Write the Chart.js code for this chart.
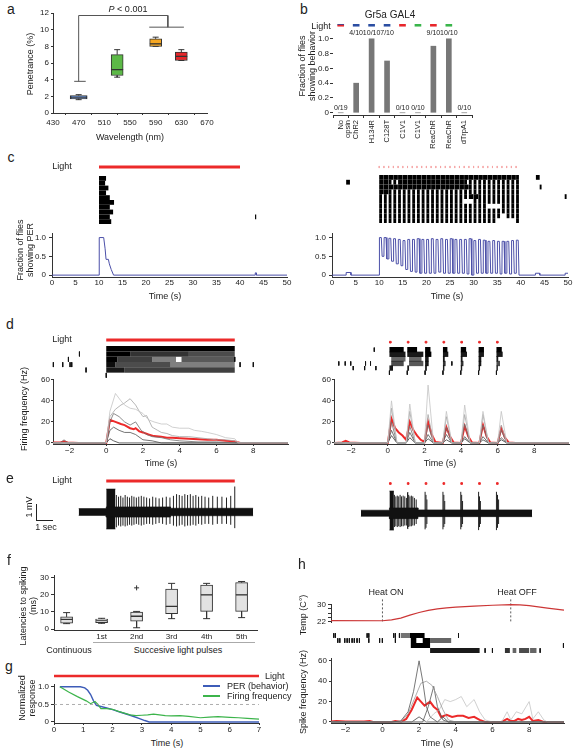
<!DOCTYPE html>
<html>
<head>
<meta charset="utf-8">
<script src="https://cdn.jsdelivr.net/npm/chart.js@4.4.1/dist/chart.umd.min.js"></script>
<style>
  body { margin: 0; width: 574px; height: 750px; background: #fff; position: relative; overflow: hidden;
         font-family: 'Liberation Sans', Arial, sans-serif; color: #222; }
  .ch { position: absolute; }
  .t { position: absolute; white-space: nowrap; transform: translate(-50%, -50%); font-size: 9px; line-height: 1.15; z-index: 2; }
  .t.l { transform: translate(0, -50%); }
  .t.v { transform: translate(-50%, -50%) rotate(-90deg); text-align: center; }
  .t.p { font-size: 14px; }
  .ln { position: absolute; z-index: 2; }
</style>
</head>
<body>
<!-- panel letters -->
<div class="t p" style="left:11px;top:9px">a</div>
<div class="t p" style="left:304px;top:9px">b</div>
<div class="t p" style="left:11px;top:157px">c</div>
<div class="t p" style="left:10px;top:324px">d</div>
<div class="t p" style="left:10px;top:478px">e</div>
<div class="t p" style="left:9px;top:560px">f</div>
<div class="t p" style="left:9px;top:666px">g</div>
<div class="t p" style="left:302px;top:564px">h</div>

<!-- a -->
<div class="t" style="left:128px;top:9px"><i>P</i> &lt; 0.001</div>
<div class="t" style="left:130px;top:137px">Wavelength (nm)</div>
<div class="t v" style="left:30px;top:64px">Penetrance (%)</div>

<!-- b -->
<div class="t" style="left:390px;top:15px;font-size:10px">Gr5a GAL4</div>
<div class="t" style="left:321px;top:26px">Light</div>
<div class="t v" style="left:307px;top:66px">Fraction of flies<br>showing behavior</div>

<!-- c -->
<div class="t" style="left:62px;top:166px">Light</div>
<div class="t v" style="left:25px;top:250px">Fraction of flies<br>showing PER</div>
<div class="t" style="left:165px;top:296px">Time (s)</div>
<div class="t" style="left:447px;top:296px">Time (s)</div>

<!-- d -->
<div class="t" style="left:62px;top:339px">Light</div>
<div class="t v" style="left:24px;top:409px">Firing frequency (Hz)</div>
<div class="t" style="left:161px;top:463px">Time (s)</div>
<div class="t" style="left:440px;top:463px">Time (s)</div>

<!-- e -->
<div class="t" style="left:62px;top:480px">Light</div>
<div class="t v" style="left:29px;top:507px">1 mV</div>
<div class="t" style="left:46px;top:527px">1 sec</div>
<div class="ln" style="left:36px;top:504px;width:1px;height:17px;background:#222"></div>
<div class="ln" style="left:36px;top:520px;width:17px;height:1px;background:#222"></div>

<!-- f -->
<div class="t v" style="left:28px;top:606px">Latencies to spiking<br>(ms)</div>
<div class="t" style="left:69px;top:650px">Continuous</div>
<div class="t" style="left:178px;top:650px">Succesive light pulses</div>
<div class="ln" style="left:93px;top:642px;width:162px;height:1px;background:#aaa"></div>

<!-- g -->
<div class="t v" style="left:27px;top:698px">Normalized<br>response</div>
<div class="t" style="left:167px;top:743px">Time (s)</div>
<div class="t l" style="left:265px;top:676px">Light</div>
<div class="ln" style="left:203px;top:685px;width:17px;height:1.5px;background:#3d5cb8"></div>
<div class="t l" style="left:227px;top:686px">PER (behavior)</div>
<div class="ln" style="left:203px;top:695px;width:17px;height:1.5px;background:#3cb44b"></div>
<div class="t l" style="left:227px;top:696px">Firing frequency</div>

<!-- h -->
<div class="t" style="left:386px;top:592px">Heat ON</div>
<div class="t" style="left:517px;top:592px">Heat OFF</div>
<div class="t v" style="left:303px;top:615px">Temp (C°)</div>
<div class="t v" style="left:303px;top:692px">Spike frequency (Hz)</div>
<div class="t" style="left:437px;top:743px">Time (s)</div>

<script>
// ── DATA ────────────────────────────────────────
// a · penetrance by wavelength (box stats)
const aWave   = [470, 530, 590, 630];
const aMin    = [1.6, 4.3, 8.0, 6.3];
const aQ1     = [1.7, 4.5, 8.0, 6.3];
const aMed    = [1.9, 5.2, 8.3, 6.8];
const aQ3     = [2.1, 7.0, 8.9, 7.3];
const aMax    = [2.2, 7.6, 9.1, 7.6];
const aXTicks = [430, 470, 510, 550, 590, 630, 670];
const aYTicks = [0, 2, 4, 6, 8, 10, 12];
const aBracketX = [463, 481, null, 470, 470, 609, 609, null, 580, 634];
const aBracketY = [3.8, 3.8, null, 3.8, 11.7, 11.7, 10.3, null, 10.3, 10.3];

// b · fraction of flies per opsin
const bCats   = [['No', 'opsin'], 'ChR2', 'H134R', 'C128T', 'C1V1', 'C1V1', 'ReaChR', 'ReaChR', 'dTrpA1'];
const bFrac   = [0, 0.4, 1.0, 0.7, 0, 0, 0.9, 1.0, 0];
const bCounts = ['0/19', '4/10', '10/10', '7/10', '0/10', '0/10', '9/10', '10/10', '0/10'];
const bLight  = ['mix', 'blue', 'blue', 'blue', 'red', 'green', 'red', 'green', ''];
const bYTicks = [0, 0.2, 0.4, 0.6, 0.8, 1.0];

// c · PER raster + fraction
const cXTicks   = [0, 5, 10, 15, 20, 25, 30, 35, 40, 45, 50];
const cYTicks   = [0, 0.5, 1];
const cLight    = [10, 40];
const cLeftEnds = [11.5, 11.3, 12.0, 11.5, 12.3, 13.2, 12.3, 13.0, 12.3, 12.6];
const cLeftDots = [[9, 43.2, 43.45]];
const cLeftPerT = [0, 10, 10.05, 11.0, 11.3, 11.5, 12.0, 12.2, 12.6, 13.1, 43.2, 43.25, 43.45, 43.5, 50];
const cLeftPerV = [0, 0, 1, 1, 0.7, 0.42, 0.42, 0.3, 0.15, 0, 0, 0.06, 0.06, 0, 0];
const cRightPulses = [10, 11, 12, 13, 14, 15, 16, 17, 18, 19, 20, 21, 22, 23, 24,
                      25, 26, 27, 28, 29, 30, 31, 32, 33, 34, 35, 36, 37, 38, 39];
const cRightRows = [
  'WWWWWWWWWWWWWWWWWWWWWWWWWWWWW1',
  'WW11WWWWWWWWWWWWWW111111111111',
  'WWWWWWWWWWWWWWWWWWW11111111111',
  'WW1111111111111111111111111111',
  '1111111111111111111WW111111111',
  '111111111111111111001111111111',
  '111111111111111111111110001111',
  '111111111111111111111111111111',
  '111111111111111111111111110111',
  '111111111111111111111111100001'
];
const cRightExtra  = [[2, 3.0, 3.8], [1, 43.2, 44.0], [3, 44.0, 44.4], [5, 49.3, 49.7]];
const cRightPeak   = [1.0, 1.0, 0.98, 0.97, 0.95, 0.92, 0.95, 0.95, 0.97, 0.95, 0.95, 0.97, 0.95, 0.97, 0.95,
                      0.97, 0.95, 0.95, 0.95, 0.97, 0.92, 0.95, 0.93, 0.9, 0.92, 0.9, 0.9, 0.9, 0.92, 0.93];
const cRightTrough = [0.5, 0.43, 0.37, 0.3, 0.25, 0.15, 0.1, 0.08, 0.05, 0.05, 0.05, 0.05, 0.08, 0.05, 0.05,
                      0.05, 0.05, 0.05, 0.03, 0.0, 0.05, 0.05, 0.05, 0.05, 0.05, 0.03, 0.05, 0.03, 0.05, 0];
const cRightBlips  = [[3.0, 4.0, 0.07], [43.1, 44.0, 0.05], [49.4, 50, 0.05]];

// d · firing (continuous vs pulsed)
const dXTicks = [-2, 0, 2, 4, 6, 8];
const dYTicks = [0, 20, 40, 60];
const dLight  = [0, 7];
const dPulses = [0, 1, 2, 3, 4, 5, 6];
const dLeftDense = [
  [1, 0, 7.0, 1.0],
  [2, 0, 1.3, 1.0], [2, 1.3, 4.5, 0.8], [2, 4.5, 7.0, 0.7],
  [3, 0, 0.6, 1.0], [3, 0.6, 2.5, 0.75], [3, 2.5, 3.8, 0.5], [3, 4.1, 7.0, 0.65],
  [4, 0, 0.5, 0.95], [4, 0.5, 3.5, 0.7], [4, 3.5, 7.0, 0.5],
  [5, 0, 1.0, 0.9], [5, 1.0, 7.0, 0.75]
];
const dLeftTicks = [[2, -1.46], [3, -2.06], [4, -2.88], [4, -2.37], [4, -1.97], [4, -1.88], [5, -1.1],
                    [3, 7.0], [4, 7.29], [4, 8.01], [6, 0]];
const dLeftMean = [[-2.9, 0.5], [-2.5, 0.5], [-2.3, 1.5], [-2.1, 0.5], [-1.5, 0], [0, 0], [0.2, 22], [0.5, 20],
                   [0.8, 18], [1.0, 17], [1.3, 14], [1.5, 13], [1.6, 14], [1.8, 11], [2.0, 10], [2.3, 8],
                   [2.6, 6.5], [3.0, 6], [3.3, 5], [3.6, 5], [4.0, 4.5], [4.5, 4], [5.0, 3.5], [5.5, 3],
                   [6.0, 3], [6.5, 2], [7.0, 1.5], [7.3, 0], [9.9, 0]];
const dLeftGray = [
  [[-2.9, 0], [0, 0], [0.2, 30], [0.5, 47], [0.8, 40], [1.0, 36], [1.3, 33], [1.6, 32], [2.0, 28], [2.3, 22],
   [2.6, 20], [3.0, 18], [3.3, 18], [3.6, 15], [4.0, 14], [4.5, 14], [4.8, 12], [5.2, 11], [5.5, 10],
   [6.0, 8], [6.5, 5], [7.0, 4], [7.2, 0], [9.9, 0]],
  [[-2.9, 0], [0, 0], [0.2, 25], [0.5, 32], [0.8, 36], [1.0, 38], [1.3, 42], [1.6, 36], [1.8, 30], [2.0, 25],
   [2.2, 26], [2.5, 15], [2.8, 12], [3.0, 10], [3.3, 9], [3.6, 7], [4.0, 6], [4.5, 6], [5.0, 5], [5.5, 4],
   [6.0, 3], [6.5, 3], [7.0, 2], [7.2, 0], [9.9, 0]],
  [[-2.9, 0], [-2.5, 0], [-2.3, 3], [-2.1, 0], [0, 0], [0.2, 20], [0.4, 28], [0.7, 25], [1.0, 20], [1.3, 17],
   [1.6, 20], [1.9, 12], [2.2, 8], [2.5, 6], [3.0, 5], [3.5, 3], [4.0, 2], [5.0, 1], [6.0, 1], [7.0, 0], [9.9, 0]],
  [[-2.9, 0], [0, 0], [0.2, 12], [0.4, 15], [0.7, 12], [1.0, 10], [1.3, 10], [1.6, 8], [2.0, 3], [2.5, 2],
   [3.0, 0], [9.9, 0]],
  [[-2.9, 0], [0, 0], [0.2, 4], [0.4, 2], [0.7, 0], [9.9, 0]]
];
const dRightDense = [
  [1, 0, 0.8, 1], [1, 1.0, 1.55, 1], [1, 2.0, 2.3, 1], [1, 3.0, 3.25, 1], [1, 4.0, 4.3, 1], [1, 5.0, 5.3, 1], [1, 6.0, 6.3, 1],
  [2, 0, 0.9, 0.9], [2, 1.0, 1.9, 0.9], [2, 2.0, 2.35, 1], [2, 3.0, 3.3, 0.9], [2, 4.0, 4.35, 0.9], [2, 5.0, 5.3, 0.9], [2, 6.0, 6.35, 0.9],
  [3, 0.1, 0.9, 0.6], [3, 1.1, 1.8, 0.6], [3, 2.0, 2.2, 0.9], [3, 3.0, 3.1, 0.9], [3, 4.0, 4.1, 0.9], [3, 5.0, 5.15, 0.9], [3, 6.0, 6.1, 0.9],
  [4, 0.1, 0.8, 0.7], [4, 1.1, 1.9, 0.65], [4, 2.0, 2.2, 0.9], [4, 3.0, 3.15, 0.8], [4, 4.0, 4.15, 0.8], [4, 5.0, 5.15, 0.9], [4, 6.0, 6.2, 0.7],
  [5, 0, 0.2, 0.9], [5, 1.0, 1.1, 0.9], [5, 2.0, 2.1, 0.9], [5, 3.0, 3.08, 0.9], [5, 4.0, 4.08, 0.9], [5, 5.0, 5.08, 0.9], [5, 6.0, 6.08, 0.9]
];
const dRightTicks = [[1, -0.85], [4, -2.84], [4, -2.48], [4, -2.17], [4, -1.34], [4, -1.06], [5, -2.03], [5, -1.39],
                     [5, -0.76], [4, 3.5], [6, 0], [6, 1], [6, 2], [6, 3], [6, 4], [6, 5], [6, 6]];
const dRightMean = [[-2.9, 0], [-2.5, 0.5], [-2.3, 2], [-2.1, 0.5], [-1.5, 0], [0, 0], [0.2, 23], [0.4, 14], [0.6, 10],
                    [0.8, 7], [1.0, 3], [1.2, 20], [1.4, 12], [1.6, 7], [1.8, 3], [2.0, 1], [2.2, 20], [2.4, 8],
                    [2.6, 1], [3.0, 0], [3.2, 15], [3.4, 6], [3.6, 0.5], [4.0, 0], [4.2, 16], [4.4, 6], [4.6, 0.5],
                    [5.0, 0], [5.2, 17], [5.4, 6], [5.6, 0.5], [6.0, 0], [6.2, 14], [6.4, 5], [6.6, 0.5], [7.0, 0], [9.9, 0]];
const dRightPeaks = [
  [40, 37, 55, 30, 36, 30, 30],
  [33, 30, 27, 25, 27, 27, 17],
  [20, 16, 17, 15, 18, 17, 12],
  [12, 10, 8, 8, 6, 6, 5],
  [7, 5, 4, 3, 4, 3, 3]
];

// e · extracellular recordings (mV vs s)
const eLeftNoise    = [[-1.5, 0, 0.2], [0, 3.5, 0.3], [3.5, 8.0, 0.22]];
const eLeftBurst    = [[0, 0.5, 1.35, -1.0]];
const eLeftSpikeT   = [0.55, 0.67, 0.79, 0.91, 1.03, 1.15, 1.27, 1.39, 1.51, 1.64, 1.77, 1.91, 2.05, 2.2, 2.36, 2.53,
                       2.7, 2.88, 3.07, 3.27, 3.47, 3.66, 3.83, 3.98, 4.13, 4.28, 4.43, 4.58, 4.73, 4.88, 5.03, 5.2,
                       5.38, 5.58, 5.8, 6.05, 6.3, 6.55, 6.78, 7.0];
const eLeftSpikeTop = [1.0, 0.9, 0.95, 0.85, 1.0, 0.9, 0.85, 0.95, 0.9, 0.85, 0.9, 0.95, 0.9, 0.85, 0.8, 0.9,
                       0.85, 0.8, 0.85, 0.9, 0.85, 0.95, 1.05, 1.0, 0.95, 1.05, 1.0, 1.05, 0.95, 1.0, 0.9, 0.95,
                       0.9, 0.85, 0.95, 0.9, 0.9, 0.85, 0.95, 1.5];
const eLeftSpikeBot = [-0.9, -0.8, -0.85, -0.8, -0.85, -0.8, -0.75, -0.8, -0.75, -0.7, -0.75, -0.8, -0.75, -0.7, -0.7, -0.75,
                       -0.7, -0.65, -0.7, -0.75, -0.7, -0.8, -0.85, -0.8, -0.75, -0.85, -0.8, -0.8, -0.75, -0.8, -0.7, -0.75,
                       -0.7, -0.7, -0.75, -0.7, -0.7, -0.7, -0.75, -0.95];
const eRightNoise    = [[-1.6, 0, 0.2], [0, 1.6, 0.35], [1.6, 8.0, 0.22]];
const eRightBurst    = [[0, 0.25, 1.45, -1.1], [1.0, 1.06, 1.35, -1.0]];
const eRightSpikeT   = [0.28, 0.36, 0.44, 0.52, 0.6, 0.68, 0.77, 0.86, 0.95, 1.02, 1.08, 1.15, 1.23, 1.31, 1.4, 1.5,
                        2.0, 2.05, 2.1, 3.0, 3.05, 3.1, 4.0, 4.05, 4.1, 5.0, 5.05, 5.1, 6.0, 6.06, 6.12];
const eRightSpikeTop = [1.2, 1.1, 1.15, 1.1, 1.2, 1.1, 1.15, 1.1, 1.0, 1.35, 1.2, 1.1, 1.15, 1.1, 1.0, 0.9,
                        1.4, 1.2, 0.9, 1.4, 1.2, 0.8, 1.4, 1.2, 0.8, 1.4, 1.1, 0.8, 1.4, 1.2, 0.9];
const eRightSpikeBot = [-0.9, -0.85, -0.9, -0.85, -0.9, -0.85, -0.85, -0.8, -0.8, -1.0, -0.9, -0.85, -0.85, -0.8, -0.8, -0.7,
                        -1.05, -0.95, -0.7, -1.05, -0.9, -0.7, -1.05, -0.9, -0.7, -1.1, -0.9, -0.7, -1.1, -0.95, -0.7];

// f · latencies to spiking (box stats)
const fCats   = ['Continuous', '1st', '2nd', '3rd', '4th', '5th'];
const fMin    = [3.2, 3.4, 0.8, 6.1, 6.1, 6.7];
const fQ1     = [3.4, 3.8, 4.6, 9.0, 10.3, 10.3];
const fMed    = [5.7, 5.0, 7.5, 13.2, 19.9, 19.9];
const fQ3     = [7.1, 5.9, 9.9, 23.3, 25.6, 27.0];
const fMax    = [9.6, 6.3, 10.3, 26.6, 26.6, 27.7];
const fOutX   = [2];
const fOutY   = [24];
const fXTicks = [1, 2, 3, 4, 5];
const fYTicks = [0, 10, 20, 30];

// g · normalized response
const gLight  = [0, 7];
const gHalf   = 0.5;
const gPerT   = [0.2, 0.9, 1.05, 1.15, 1.25, 1.35, 1.45, 1.6, 1.8, 2.0, 2.3, 2.6, 2.9, 3.1, 3.25, 7.0];
const gPerV   = [1.0, 1.0, 0.97, 0.9, 0.78, 0.6, 0.47, 0.44, 0.4, 0.35, 0.27, 0.19, 0.1, 0.04, 0, 0];
const gFirT   = [0.2, 0.5, 0.8, 1.1, 1.25, 1.4, 1.5, 1.6, 1.8, 2.0, 2.2, 2.4, 2.6, 2.8, 3.0, 3.2, 3.4, 3.6, 3.8,
                 4.0, 4.3, 4.6, 5.0, 5.3, 5.6, 6.0, 6.3, 6.6, 7.0];
const gFirV   = [1.0, 0.85, 0.72, 0.6, 0.52, 0.58, 0.5, 0.38, 0.38, 0.36, 0.3, 0.25, 0.2, 0.18, 0.19, 0.2, 0.22,
                 0.2, 0.18, 0.17, 0.18, 0.16, 0.12, 0.14, 0.15, 0.13, 0.12, 0.1, 0.08];
const gXTicks = [0, 1, 2, 3, 4, 5, 6, 7];
const gYTicks = [0, 0.5, 1];

// h · heat stimulation
const hHeat      = [0, 7];
const hTempT     = [-2.8, 0, 0.5, 1, 1.5, 2, 2.5, 3, 3.5, 4, 5, 6, 7, 7.5, 8, 8.5, 9, 9.9];
const hTempV     = [22.4, 22.3, 22.7, 23.6, 25.0, 26.3, 27.3, 28.0, 28.5, 28.9, 29.4, 29.8, 30.1, 30.0, 29.6, 29.0, 28.4, 27.4];
const hTempTicks = [22, 24, 26, 28, 30];
const hDense = [
  [1, 1.0, 1.5, 0.55], [1, 1.5, 2.3, 1],
  [2, 1.55, 1.85, 1], [2, 2.2, 2.6, 1], [2, 2.6, 3.75, 0.6],
  [3, 1.55, 2.6, 1],
  [4, 2.6, 5.3, 0.9], [4, 6.68, 6.95, 0.8], [4, 7.1, 7.3, 0.6], [4, 7.45, 8.0, 0.7], [4, 8.05, 8.4, 0.6]
];
const hTicks = [[1, -2.65], [1, -2.56], [1, -0.83], [1, -0.74], [1, 0.62], [1, 0.71], [1, 0.93], [1, 4.15],
                [2, -2.43], [2, -2.32], [2, -2.05], [2, -1.92], [2, -1.8], [2, -1.65], [2, -1.53], [2, -1.38],
                [2, -1.25], [2, -0.74], [2, -0.15], [2, 0.0], [2, 0.71], [3, 9.87], [4, 5.6], [4, 6.0], [4, 8.6]];
const hMean = [[-2.8, 0.5], [-2.5, 1], [-2, 0.5], [-1.5, 0.5], [-1, 0.5], [-0.7, 1], [-0.5, 0], [0.5, 0], [0.7, 1],
               [1.0, 0], [1.3, 3], [1.6, 12], [1.9, 24], [2.1, 20], [2.3, 16], [2.6, 20], [2.8, 15], [3.0, 12],
               [3.2, 5], [3.5, 7], [3.8, 5], [4.1, 6], [4.4, 6], [4.7, 4], [5.0, 5], [5.3, 2], [5.6, 0], [6.5, 0],
               [6.8, 3], [7.0, 1], [7.2, 1], [7.4, 3], [7.6, 2], [7.8, 3], [8.0, 5], [8.2, 1], [8.5, 2], [8.8, 0], [9.9, 0]];
const hGray = [
  [[-2.8, 0], [0.5, 0], [1.0, 1], [1.4, 10], [1.7, 30], [2.0, 60], [2.2, 40], [2.4, 15], [2.6, 5], [3.0, 0], [9.9, 0]],
  [[-2.8, 0], [1.0, 0], [1.4, 8], [1.8, 25], [2.1, 38], [2.4, 40], [2.7, 36], [3.0, 25], [3.3, 12], [3.6, 2], [4.0, 0], [9.9, 0]],
  [[-2.8, 0], [2.2, 0], [2.5, 15], [2.8, 35], [3.0, 15], [3.3, 2], [3.6, 0], [9.9, 0]],
  [[-2.8, 0], [2.4, 0], [2.8, 8], [3.1, 12], [3.4, 22], [3.7, 20], [4.0, 22], [4.3, 25], [4.6, 15], [5.0, 22],
   [5.3, 10], [5.6, 2], [6.0, 0], [6.5, 0], [6.8, 10], [7.0, 2], [7.3, 10], [7.6, 8], [8.0, 20], [8.2, 3],
   [8.5, 10], [8.8, 2], [9.0, 0], [9.9, 0]],
  [[-2.8, 0], [1.6, 0], [2.0, 5], [2.4, 0], [3.0, 0], [3.3, 5], [3.6, 0], [9.9, 0]]
];
const hXTicks = [-2, 0, 2, 4, 6, 8];
const hYTicks = [0, 20, 40, 60];

// ── STYLE ───────────────────────────────────────
const AX = '#333';
const RED = '#ec2a2a';
const PER_BLUE = '#4b4fa8';
const LIGHT = { blue: '#2b4ea2', red: '#e8262b', green: '#39b54a' };
const A_FILL = ['#2f5a9e', '#5cb947', '#f7a823', '#e6262a'];
const A_W = [17, 12, 12, 12];
const D_GRAY = ['#c4c4c4', '#a4a4a4', '#707070', '#505050', '#3a3a3a'];
const H_GRAY = ['#555', '#9a9a9a', '#555', '#c4c4c4', '#444'];
const RESP = 0.6, RESP_LONG = 0.95;

Chart.defaults.font.family = "'Liberation Sans', Arial, sans-serif";
Chart.defaults.font.size = 8;
Chart.defaults.color = '#222';

// ── HELPERS ─────────────────────────────────────
const num = v => v < 0 ? '\u2212' + Math.abs(v) : String(v);
const dec = v => v === 0 ? '0' : v.toFixed(1);
const xy = (xs, ys) => xs.map((x, i) => ({ x, y: ys[i] }));
const pairs = arr => arr.map(([x, y]) => ({ x, y }));

function axis(min, max, ticks, o = {}) {
  const len = o.len ?? 3;
  return {
    type: 'linear', min, max, offset: false,
    border: { display: o.border !== false, color: AX, width: 1 },
    grid: { drawOnChartArea: false, drawTicks: len > 0, tickLength: len, color: AX },
    ticks: { padding: o.pad ?? 2, color: '#222', autoSkip: false, maxRotation: 0, callback: o.fmt || num },
    afterBuildTicks: s => { s.ticks = ticks.map(v => ({ value: v })); }
  };
}
const hidden = (min, max, rev) => ({ type: 'linear', display: false, min, max, reverse: !!rev, offset: false });
// raster rows: row i centred at rowTop + (i - .5) * rowH px
function rowAxis(area, rowTop, rowH) {
  const v = px => (px - rowTop) / rowH + 0.5;
  return Object.assign(hidden(v(area[1]), v(area[3]), true), { _v: v });
}

function L(data, color, width, more) {
  return Object.assign({ type: 'line', data, borderColor: color, borderWidth: width, pointRadius: 0,
    fill: false, tension: 0, clip: false, spanGaps: false }, more || {});
}

function rasterSets(dense, ticks, rowPx) {
  const sets = dense.map(([r, s, e, k]) =>
    L([{ x: s, y: r }, { x: e, y: r }], `rgba(0,0,0,${k})`, rowPx, { borderCapStyle: 'butt' }));
  const pts = [];
  ticks.forEach(([r, t]) => pts.push({ x: t, y: r - 0.45 }, { x: t, y: r + 0.45 }, { x: t, y: null }));
  sets.push(L(pts, '#111', 1));
  return sets;
}

function band(segs, color) {
  const up = [], lo = [];
  segs.forEach(([s, e, tp, bt]) => { up.push({ x: s, y: tp }, { x: e, y: tp }); lo.push({ x: s, y: bt }, { x: e, y: bt }); });
  return [L(up, color, 0.6), L(lo, color, 0.6, { fill: '-1', backgroundColor: color })];
}

function spikes(ts, tops, bots, color) {
  const pts = [];
  ts.forEach((t, i) => pts.push({ x: t, y: bots[i] }, { x: t, y: tops[i] }, { x: t, y: null }));
  return L(pts, color, 1);
}

function boxSets(xs, mn, q1, md, q3, mx, fills, thick, capR) {
  const sets = [];
  xs.forEach((x, i) => {
    const f = Array.isArray(fills) ? fills[i] : fills;
    const th = Array.isArray(thick) ? thick[i] : thick;
    [[q1[i], md[i]], [md[i], q3[i]]].forEach(rng => sets.push({
      type: 'bar', data: [{ x, y: rng }], backgroundColor: f, borderColor: '#333', borderWidth: 1,
      barThickness: th, grouped: false, borderSkipped: false, clip: false
    }));
  });
  const wh = [], caps = [];
  xs.forEach((x, i) => {
    wh.push({ x, y: q3[i] }, { x, y: mx[i] }, { x, y: null }, { x, y: q1[i] }, { x, y: mn[i] }, { x, y: null });
    caps.push({ x, y: mx[i] }, { x, y: mn[i] });
  });
  sets.unshift(L(wh, '#333', 1));
  sets.push(L(caps, '#333', 1, { showLine: false, pointRadius: capR, pointStyle: 'line' }));
  return sets;
}

function make(area, m, datasets, scales, extra = {}) {
  const [l, t, r, b] = area;
  const box = document.createElement('div');
  box.className = 'ch';
  Object.assign(box.style, {
    left: (l - m[0]) + 'px', top: (t - m[1]) + 'px',
    width: (r - l + m[0] + m[2]) + 'px', height: (b - t + m[1] + m[3]) + 'px'
  });
  const cv = document.createElement('canvas');
  box.appendChild(cv);
  document.body.appendChild(box);
  const pad = { left: 0, top: m[1], right: m[2], bottom: 0 };
  if (scales.y.display === false) pad.left = m[0]; else scales.y.afterFit = s => { s.width = m[0]; };
  if (scales.x.display === false) pad.bottom = m[3]; else scales.x.afterFit = s => { s.height = m[3]; };
  return new Chart(cv, {
    type: extra.type || 'line',
    data: { labels: extra.labels, datasets },
    options: {
      responsive: true, maintainAspectRatio: false, animation: false, events: [],
      layout: { padding: pad },
      plugins: { legend: { display: false }, tooltip: { enabled: false } },
      scales
    },
    plugins: extra.plugins || []
  });
}

// ── A · BOXES ───────────────────────────────────
make([53, 13, 207, 113], [26, 8, 12, 16],
  [...boxSets(aWave, aMin, aQ1, aMed, aQ3, aMax, A_FILL, A_W, 3),
   L(xy(aBracketX, aBracketY), '#555', 1)],
  { x: axis(430, 670, aXTicks, { len: 2, pad: 3 }), y: axis(0, 12, aYTicks, { len: 2, pad: 2 }) });

// ── B · BARS ────────────────────────────────────
const countLabels = {
  id: 'counts',
  afterDatasetsDraw(ch) {
    const { ctx, scales: { x, y } } = ch;
    ctx.save();
    ctx.font = "7px 'Liberation Sans', Arial, sans-serif";
    ctx.fillStyle = '#222';
    ctx.textAlign = 'center';
    ctx.textBaseline = 'middle';
    bCounts.forEach((s, i) => ctx.fillText(s, x.getPixelForValue(i), y.getPixelForValue(bFrac[i] > 0 ? 1.08 : 0.07)));
    ctx.restore();
  }
};
const sq = (pick, lo, hi) => bLight.map(c => pick(c) ? [lo, hi] : null);
make([333, 24, 472, 115], [24, 6, 8, 42],
  [
    { type: 'bar', data: bFrac, backgroundColor: '#777', barThickness: 5, grouped: false },
    { type: 'bar', data: sq(c => LIGHT[c], 1.17, 1.215), backgroundColor: bLight.map(c => LIGHT[c] || '#fff'), barThickness: 6, grouped: false },
    { type: 'bar', data: sq(c => c === 'mix', 1.17, 1.185), backgroundColor: LIGHT.red, barThickness: 6, grouped: false },
    { type: 'bar', data: sq(c => c === 'mix', 1.185, 1.2), backgroundColor: LIGHT.blue, barThickness: 6, grouped: false },
    { type: 'bar', data: sq(c => c === 'mix', 1.2, 1.215), backgroundColor: LIGHT.green, barThickness: 6, grouped: false }
  ],
  {
    x: { type: 'category', offset: true, border: { color: AX },
         grid: { offset: true, drawOnChartArea: false, tickLength: 3, color: AX },
         ticks: { autoSkip: false, maxRotation: 90, minRotation: 90, padding: 2, color: '#222',
                  font: { size: 7.5, lineHeight: 1.0 } } },
    y: axis(-0.03, 1.2, bYTicks, { border: false, fmt: dec, len: 3, pad: 1 })
  },
  { type: 'bar', labels: bCats, plugins: [countLabels] });

// ── C · PER ─────────────────────────────────────
{
  const area = [52, 160, 287, 226];
  const ya = rowAxis(area, 176, 4.8);
  const lr = ya._v(167);
  const dense = cLeftEnds.map((e, i) => [i + 1, cLight[0], e, 1]).concat(cLeftDots.map(([r, s, e]) => [r, s, e, 1]));
  make(area, [2, 2, 2, 2],
    [L([{ x: cLight[0], y: lr }, { x: cLight[1], y: lr }], RED, 3, { borderCapStyle: 'butt' }), ...rasterSets(dense, [], 4.8)],
    { x: hidden(0, 50), y: ya });
}
make([52, 230, 287, 277], [36, 4, 10, 14],
  [L(xy(cLeftPerT, cLeftPerV), PER_BLUE, 1)],
  { x: axis(0, 50, cXTicks, { len: 0, pad: 1 }), y: axis(-0.05, 1.1, cYTicks, { fmt: dec, len: 3, pad: 3 }) });
{
  const area = [332, 160, 568, 226];
  const ya = rowAxis(area, 175, 4.8);
  const lr = ya._v(167);
  const dense = [];
  cRightRows.forEach((s, r) => [...s].forEach((c, k) => {
    if (c !== '0') dense.push([r + 1, cRightPulses[k], cRightPulses[k] + (c === 'W' ? RESP_LONG : RESP), 1]);
  }));
  cRightExtra.forEach(([r, s, e]) => dense.push([r, s, e, 1]));
  const pulses = [];
  cRightPulses.forEach(t => pulses.push({ x: t, y: lr - 0.22 }, { x: t, y: lr + 0.22 }, { x: t, y: null }));
  make(area, [2, 2, 2, 2],
    [L(pulses, '#f5a3a3', 0.8), ...rasterSets(dense, [], 4.8)],
    { x: hidden(0, 50), y: ya });

  const per = [{ x: 0, y: 0 }];
  const blip = ([s, e, v]) => per.push({ x: s - 0.02, y: 0 }, { x: s, y: v }, { x: e, y: v }, { x: Math.min(e + 0.02, 50), y: e >= 50 ? v : 0 });
  blip(cRightBlips[0]);
  let prev = 0;
  cRightPulses.forEach((t, k) => {
    per.push({ x: t, y: prev }, { x: t + 0.05, y: cRightPeak[k] }, { x: t + 0.45, y: cRightPeak[k] }, { x: t + 0.62, y: cRightTrough[k] });
    prev = cRightTrough[k];
  });
  blip(cRightBlips[1]);
  blip(cRightBlips[2]);
  make([332, 230, 568, 277], [36, 4, 10, 14],
    [L(per, PER_BLUE, 1)],
    { x: axis(0, 50, cXTicks, { len: 0, pad: 1 }), y: axis(-0.05, 1.1, cYTicks, { fmt: dec, len: 3, pad: 3 }) });
}

// ── D · FIRING ──────────────────────────────────
{
  const area = [53, 334, 288, 378];
  const ya = rowAxis(area, 346, 5.33);
  const lr = ya._v(340);
  make(area, [2, 2, 2, 2],
    [L([{ x: dLight[0], y: lr }, { x: dLight[1], y: lr }], RED, 3, { borderCapStyle: 'butt' }), ...rasterSets(dLeftDense, dLeftTicks, 5.33)],
    { x: hidden(-2.9, 9.9), y: ya });
  make([53, 378, 288, 444], [32, 4, 10, 12],
    [...dLeftGray.map((g, i) => L(pairs(g), D_GRAY[i], 0.8)), L(pairs(dLeftMean), RED, 2)],
    { x: axis(-2.9, 9.9, dXTicks, { len: 2, pad: 0 }), y: axis(-1, 60, dYTicks, { len: 2, pad: 1 }) });
}
{
  const area = [334, 334, 569, 378];
  const ya = rowAxis(area, 346, 5.33);
  const lr = ya._v(340);
  make(area, [2, 2, 2, 2],
    [L(dPulses.map(t => ({ x: t + 0.05, y: lr })), RED, 1, { showLine: false, pointRadius: 1.2, pointStyle: 'rect', backgroundColor: RED }),
     ...rasterSets(dRightDense, dRightTicks, 5.33)],
    { x: hidden(-2.94, 9.9), y: ya });
  const grays = dRightPeaks.map((pk, j) => {
    const pts = [{ x: -2.94, y: 0 }];
    dPulses.forEach((t, k) => pts.push({ x: t, y: 0 }, { x: t + 0.2, y: pk[k] }, { x: t + 0.5, y: 0 }));
    pts.push({ x: 9.9, y: 0 });
    return L(pts, D_GRAY[j], 0.8);
  });
  make([334, 378, 569, 444], [32, 4, 10, 12],
    [...grays, L(pairs(dRightMean), RED, 2)],
    { x: axis(-2.94, 9.9, dXTicks, { len: 2, pad: 0 }), y: axis(-1, 60, dYTicks, { len: 2, pad: 1 }) });
}

// ── E · TRACES ──────────────────────────────────
{
  const base = 512, pxmv = 17;
  const ly = (base - 481) / pxmv;
  make([30, 476, 288, 537], [2, 2, 2, 2],
    [L([{ x: dLight[0], y: ly }, { x: dLight[1], y: ly }], RED, 3, { borderCapStyle: 'butt' }),
     ...band(eLeftNoise.map(([s, e, a]) => [s, e, a, -a]), '#111'),
     ...band(eLeftBurst, '#111'),
     spikes(eLeftSpikeT, eLeftSpikeTop, eLeftSpikeBot, '#222')],
    { x: hidden(-4.153, 9.9), y: hidden(-(537 - base) / pxmv, (base - 476) / pxmv) });
}
{
  const base = 514, pxmv = 17;
  const ly = (base - 481) / pxmv;
  make([334, 476, 569, 537], [2, 2, 2, 2],
    [L(dPulses.map(t => ({ x: t + 0.05, y: ly })), RED, 1, { showLine: false, pointRadius: 1.2, pointStyle: 'rect', backgroundColor: RED }),
     ...band(eRightNoise.map(([s, e, a]) => [s, e, a, -a]), '#111'),
     ...eRightBurst.flatMap(s => band([s], '#111')),
     spikes(eRightSpikeT, eRightSpikeTop, eRightSpikeBot, '#222')],
    { x: hidden(-2.94, 9.9), y: hidden(-(537 - base) / pxmv, (base - 476) / pxmv) });
}

// ── F · LATENCIES ───────────────────────────────
make([54, 575, 257, 630], [34, 6, 10, 14],
  [...boxSets(fCats.map((_, i) => i), fMin, fQ1, fMed, fQ3, fMax, '#e2e2e2', 12, 3.5),
   L(xy(fOutX, fOutY), '#333', 1, { showLine: false, pointRadius: 2.5, pointStyle: 'cross' })],
  { x: axis(-0.36, 5.44, fXTicks, { len: 0, pad: 2, fmt: v => fCats[v] }), y: axis(-0.5, 31, fYTicks, { len: 3, pad: 2 }) });

// ── G · NORMALIZED ──────────────────────────────
make([54, 684, 259, 723], [34, 14, 30, 12],
  [L([{ x: gLight[0], y: 1.31 }, { x: gLight[1], y: 1.31 }], RED, 2.5, { borderCapStyle: 'butt' }),
   L([{ x: 0, y: gHalf }, { x: 7, y: gHalf }], '#999', 0.8, { borderDash: [3, 3] }),
   L(xy(gFirT, gFirV), '#3cb44b', 1.2),
   L(xy(gPerT, gPerV), '#3d5cb8', 1.4)],
  { x: axis(0, 7, gXTicks, { len: 2, pad: 0 }), y: axis(-0.03, 1.08, gYTicks, { fmt: dec, len: 3, pad: 2 }) });

// ── H · HEAT ────────────────────────────────────
make([331, 604, 564, 626], [30, 12, 10, 3],
  [L(xy(hTempT, hTempV), '#cc3636', 1.2),
   ...hHeat.map(t => L([{ x: t, y: 22 }, { x: t, y: 33.2 }], '#333', 0.8, { borderDash: [2, 2] }))],
  { x: hidden(-2.8, 9.9), y: axis(21.6, 30.4, hTempTicks, { len: 3, pad: 2, fmt: v => (v === 22 || v === 30) ? String(v) : '' }) });
{
  const area = [331, 631, 564, 655];
  make(area, [2, 2, 2, 2], rasterSets(hDense, hTicks, 5),
    { x: hidden(-2.8, 9.9), y: rowAxis(area, 633, 5) });
}
make([331, 656, 564, 723], [30, 4, 10, 12],
  [...hGray.map((g, i) => L(pairs(g), H_GRAY[i], 0.8)), L(pairs(hMean), RED, 2)],
  { x: axis(-2.8, 9.9, hXTicks, { len: 2, pad: 0 }), y: axis(-1, 62, hYTicks, { len: 2, pad: 2 }) });
</script>
</body>
</html>
